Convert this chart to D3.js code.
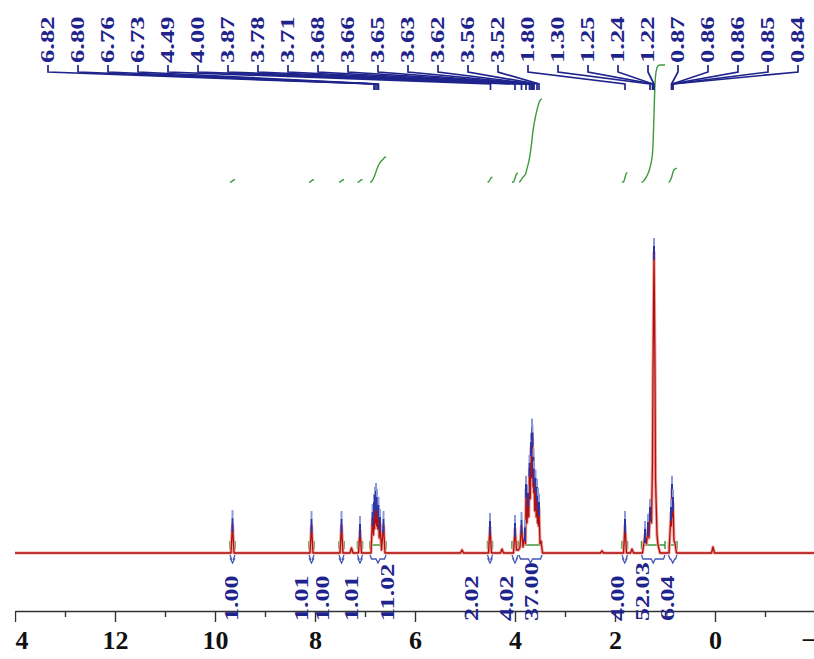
<!DOCTYPE html>
<html lang="en">
<head>
<meta charset="UTF-8">
<title>1H NMR spectrum</title>
<style>
  body { margin: 0; background: #fff; }
  svg { display: block; }
  text { font-family: "Liberation Serif", "Times New Roman", serif; font-weight: bold; }
</style>
</head>
<body>
<svg id="chart" width="814" height="659"></svg>
<script src="https://cdn.jsdelivr.net/npm/d3@7/dist/d3.min.js"></script>
<script>
// spectrum trace, ppm and relative intensity (tallest peak = 100)
var specPpm = [14.0,
  9.68, 9.65, 9.62,  8.10, 8.07, 8.04,  7.50, 7.47, 7.44,  7.30, 7.27, 7.24,  7.13, 7.10, 7.07,
  6.88, 6.85, 6.83, 6.82, 6.81, 6.80, 6.79, 6.78, 6.77, 6.76, 6.745, 6.73, 6.715, 6.70, 6.67, 6.63, 6.60,
  5.09, 5.06, 5.03,  4.53, 4.50, 4.47,  4.29, 4.26, 4.23,
  4.03, 4.00, 3.97, 3.93, 3.90, 3.87, 3.84, 3.80, 3.79, 3.78, 3.76, 3.74, 3.725, 3.71, 3.695, 3.68, 3.67,
  3.66, 3.655, 3.65, 3.64, 3.63, 3.625, 3.62, 3.605, 3.59, 3.575, 3.56, 3.55, 3.54, 3.53, 3.52, 3.50, 3.48, 3.45,
  2.29, 2.26, 2.23,  1.83, 1.80, 1.77,  1.69, 1.66, 1.63,
  1.45, 1.40, 1.37, 1.34, 1.32, 1.30, 1.27, 1.25, 1.24, 1.22, 1.20, 1.19, 1.16, 1.14, 1.10,
  0.92, 0.88, 0.87, 0.86, 0.85, 0.84, 0.82, 0.80, 0.77,
  0.07, 0.04, 0.01,
  -2.0];
var specInt = [0,
  0, 9.6, 0,  0, 9.3, 0,  0, 9.3, 0,  0, 1.7, 0,  0, 7.6, 0,
  0, 11.6, 6, 15, 8, 17.3, 10, 18.6, 9, 16.6, 8, 14, 5, 10, 1, 9.3, 0,
  0, 1, 0,  0, 8.6, 0,  0, 1.3, 0,
  0, 8, 1, 1, 2, 9, 2, 6.6, 3, 21, 10, 18, 12, 28, 18, 35, 25,
  40, 33, 38, 22, 30, 20, 26, 14, 23, 12, 20, 10, 17, 9, 15, 3, 4, 0,
  0, 0.7, 0,  0, 9.3, 0,  0, 1.3, 0,
  0, 6, 3, 8.3, 5, 13.3, 10, 30, 60, 100, 60, 25, 6, 2.7, 0,
  0, 13.3, 9, 21, 12, 16.6, 4, 3.3, 0,
  0, 2, 0,
  0];

// picked peaks shown across the top
var peakLabels = [6.82, 6.80, 6.76, 6.73, 4.49, 4.00, 3.87, 3.78, 3.71, 3.68, 3.66, 3.65, 3.63,
  3.62, 3.56, 3.52, 1.80, 1.30, 1.25, 1.24, 1.22, 0.87, 0.86, 0.86, 0.85, 0.84];

// integral ranges and values
var intFrom = [9.70, 8.12, 7.52, 7.15, 6.90, 4.55, 4.06, 3.92, 1.86, 1.47, 0.93];
var intTo = [9.60, 8.02, 7.42, 7.05, 6.58, 4.45, 3.94, 3.46, 1.75, 1.00, 0.76];
var intValues = [1.00, 1.01, 1.00, 1.01, 11.02, 2.02, 4.02, 37.00, 4.00, 52.03, 6.04];
var intLabelPpm = [9.66, 8.26, 7.84, 7.26, 6.54, 4.86, 4.16, 3.66, 1.94, 1.44, 0.94];

var majorTicks = [14, 12, 10, 8, 6, 4, 2, 0, -2];
var minorTicks = [13, 11, 9, 7, 5, 3, 1, -1];

var svg = d3.select("#chart"),
  navy = "#1f248c",
  green = "#3d9a3d";

var x = d3.scaleLinear().domain([14, -2]).range([15, 815]),
  y = d3.scaleLinear().domain([0, 100]).range([553, 252]),
  yInt = d3.scaleLinear().domain([0, 60]).range([182, 47]),
  labelX = d3.scalePoint().domain(d3.range(peakLabels.length)).range([48, 798]);

var spec = specPpm.map(function (p, i) { return [p, specInt[i]]; });

function intensityAt(p) {
  for (var i = 0; i < spec.length - 1; i++) {
    var a = spec[i], b = spec[i + 1];
    if (p <= a[0] && p >= b[0]) {
      var t = (a[0] - p) / (a[0] - b[0]);
      return a[1] + t * (b[1] - a[1]);
    }
  }
  return 0;
}

// axis (left label clipped like the original crop)
svg.append("clipPath").attr("id", "axclip")
  .append("rect").attr("x", 14.6).attr("y", -20).attr("width", 810).attr("height", 80);

var axisG = svg.append("g")
  .attr("clip-path", "url(#axclip)")
  .attr("transform", "translate(0,611)");

axisG.call(d3.axisBottom(x).tickValues(majorTicks).tickSize(11).tickSizeOuter(0)
  .tickPadding(9).tickFormat(d3.format("d")));
axisG.append("g").call(d3.axisBottom(x).tickValues(minorTicks).tickSize(6).tickFormat(""))
  .select(".domain").remove();
axisG.selectAll("path, line").attr("stroke", "#333").attr("stroke-width", 1.4);
axisG.selectAll("text").attr("font-size", 26).attr("fill", "#111")
  .attr("font-family", "'Liberation Serif', serif").attr("font-weight", "bold");

// green integral range marks on the trace
intFrom.forEach(function (a, i) {
  var x1 = x(a), x2 = x(intTo[i]);
  svg.append("path")
    .attr("d", "M" + x1 + ",549V541M" + x1 + ",545H" + x2 + "M" + x2 + ",541V549")
    .attr("fill", "none").attr("stroke", green).attr("stroke-width", 1.5);
});

// spectrum
var line = d3.line().x(function (d) { return x(d[0]); }).y(function (d) { return y(d[1]); });
svg.append("path").datum(spec).attr("d", line)
  .attr("fill", "none").attr("stroke", "#efa49c").attr("stroke-width", 3.2)
  .attr("stroke-linejoin", "round");
svg.append("path").datum(spec).attr("d", line)
  .attr("fill", "none").attr("stroke", "#b01010").attr("stroke-width", 1.3)
  .attr("stroke-linejoin", "round");

// peak markers on the peak tops
spec.forEach(function (d, i) {
  if (i === 0 || i === spec.length - 1) return;
  if (d[1] < 5 || d[1] < spec[i - 1][1] || d[1] < spec[i + 1][1]) return;
  var px = x(d[0]), py = y(d[1]);
  svg.append("line").attr("x1", px).attr("x2", px).attr("y1", py - 6).attr("y2", py + 8)
    .attr("stroke", "#2a35a8").attr("stroke-width", 2);
  svg.append("line").attr("x1", px).attr("x2", px).attr("y1", py - 14).attr("y2", py - 6)
    .attr("stroke", "#8e9ad8").attr("stroke-width", 2);
});

// integral brackets under the baseline
intFrom.forEach(function (a, i) {
  var x1 = x(a), x2 = x(intTo[i]), xc = (x1 + x2) / 2;
  svg.append("path")
    .attr("d", "M" + x1 + ",555L" + (x1 + 1.5) + ",559H" + (xc - 2) + "L" + xc + ",563L" +
      (xc + 2) + ",559H" + (x2 - 1.5) + "L" + x2 + ",555")
    .attr("fill", "none").attr("stroke", "#4756b8").attr("stroke-width", 1.3);
});

// integral curves
intFrom.forEach(function (a, i) {
  var b = intTo[i];
  var pts = [[a, intensityAt(a)]];
  spec.forEach(function (d) { if (d[0] < a && d[0] > b) pts.push(d); });
  pts.push([b, intensityAt(b)]);
  var cum = [0];
  for (var k = 1; k < pts.length; k++) {
    cum.push(cum[k - 1] + (pts[k - 1][0] - pts[k][0]) * (pts[k - 1][1] + pts[k][1]) / 2);
  }
  var total = cum[cum.length - 1] || 1;
  var curve = pts.map(function (p, k) { return [x(p[0]), yInt(cum[k] / total * intValues[i])]; });
  svg.append("path").attr("d", d3.line().curve(d3.curveMonotoneX)(curve))
    .attr("fill", "none").attr("stroke", green).attr("stroke-width", 1.4);
});

// integral values
intLabelPpm.forEach(function (p, i) {
  var t = svg.append("text")
    .attr("transform", "translate(" + x(p) + ",621) rotate(-90)")
    .attr("dy", "0.35em").attr("font-size", 18).attr("fill", navy)
    .text(intValues[i].toFixed(2));
  t.attr("textLength", t.node().getComputedTextLength() * 1.45).attr("lengthAdjust", "spacingAndGlyphs");
});

// peak labels and connectors
peakLabels.forEach(function (p, i) {
  var lx = labelX(i), px = x(p);
  var t = svg.append("text")
    .attr("transform", "translate(" + lx + ",63) rotate(-90)")
    .attr("dy", "0.35em").attr("font-size", 18).attr("fill", navy)
    .text(p.toFixed(2));
  t.attr("textLength", t.node().getComputedTextLength() * 1.48).attr("lengthAdjust", "spacingAndGlyphs");
  svg.append("path")
    .attr("d", "M" + lx + ",65V72L" + px + ",84V90")
    .attr("fill", "none").attr("stroke", navy).attr("stroke-width", 1.7);
});
</script>
</body>
</html>
